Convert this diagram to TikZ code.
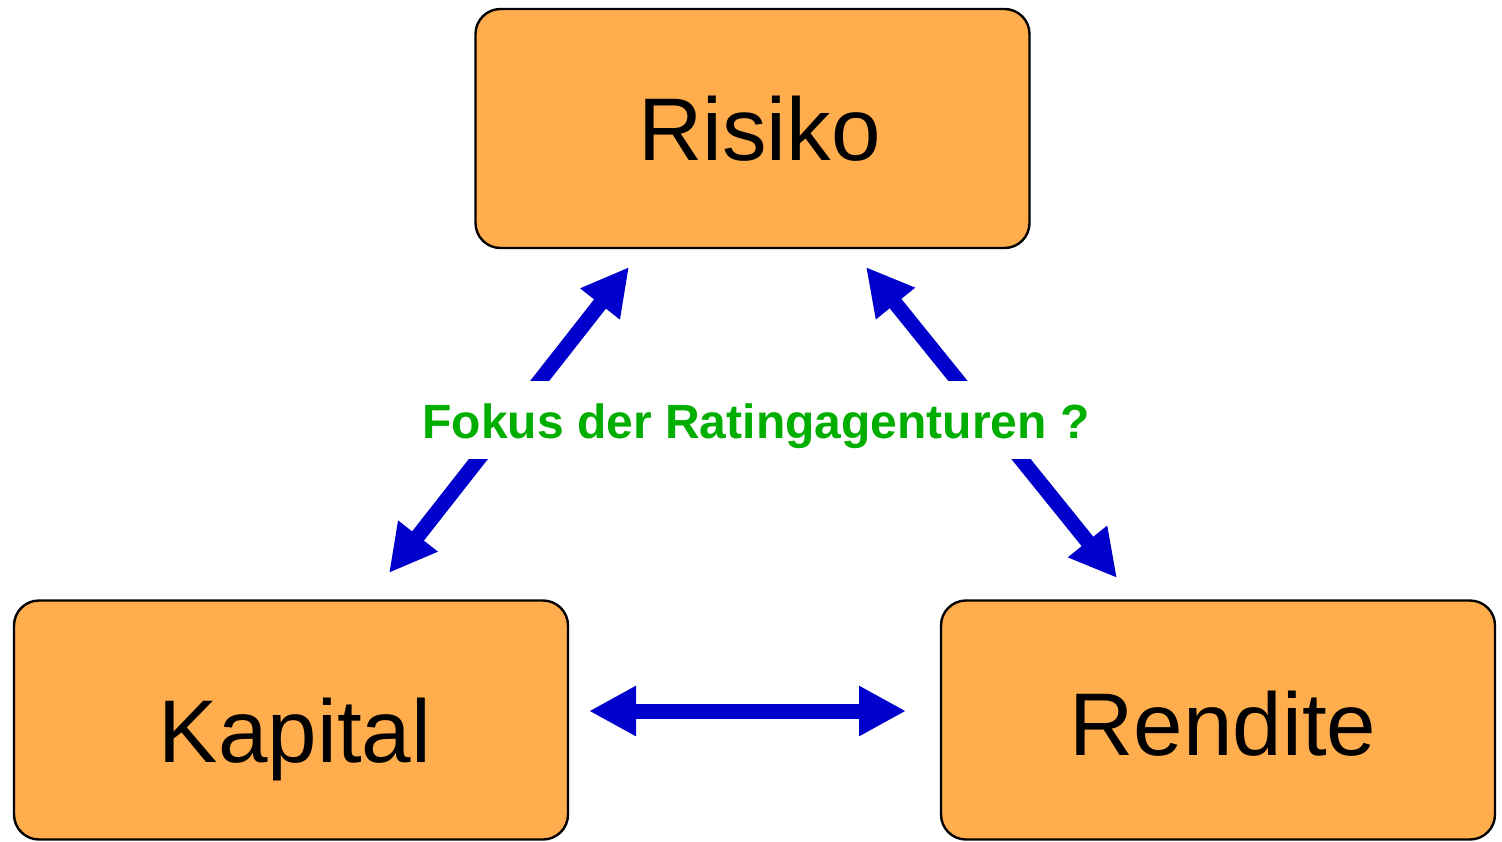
\documentclass[tikz,border=0pt]{standalone}
\usepackage{fontspec}
\setmainfont{Liberation Sans}
\usetikzlibrary{arrows.meta}
\definecolor{boxfill}{RGB}{255,173,77}
\definecolor{arrblue}{RGB}{0,0,204}
\definecolor{focgreen}{RGB}{0,174,0}
\begin{document}
\begin{tikzpicture}[x=1pt,y=-1pt,
  box/.style={draw=black,line width=2.4pt,fill=boxfill,rounded corners=25pt,
    minimum width=554pt,minimum height=239pt,inner sep=0pt,
    font=\fontsize{89}{100}\selectfont,text depth=0pt},
  biarrow/.style={draw=arrblue,line width=15pt,
    {Triangle[length=47pt,width=47pt]}-{Triangle[length=47pt,width=47pt]}},
  focus/.style={fill=white,text=focgreen,inner xsep=6pt,inner ysep=0pt,
    minimum height=78pt,text height=36pt,text depth=0pt,
    font=\fontsize{48}{56}\selectfont\bfseries}
]
\useasboundingbox (0,0) rectangle (1502,841);
\node[box,text height=63pt] (ris) at (752.5,128.5) {\hspace*{14pt}Risiko};
\node[box,minimum height=239pt,text height=85pt] (kap) at (291,720) {\hspace*{8pt}Kapital};
\node[box,minimum height=239pt,text height=71pt] (ren) at (1218,720) {\hspace*{10pt}Rendite};

\coordinate (kr1) at (389,573);
\coordinate (kr2) at (629,267);
\coordinate (rr1) at (866,267);
\coordinate (rr2) at (1117,578);
\coordinate (kh) at (589,711);
\coordinate (rh) at (906,711);

\draw[biarrow] (kr1) -- (kr2);
\draw[biarrow] (rr1) -- (rr2);
\draw[biarrow] (kh) -- (rh);

\node[focus] (fok) at (756,420) {Fokus der Ratingagenturen ?};
\end{tikzpicture}
\end{document}
